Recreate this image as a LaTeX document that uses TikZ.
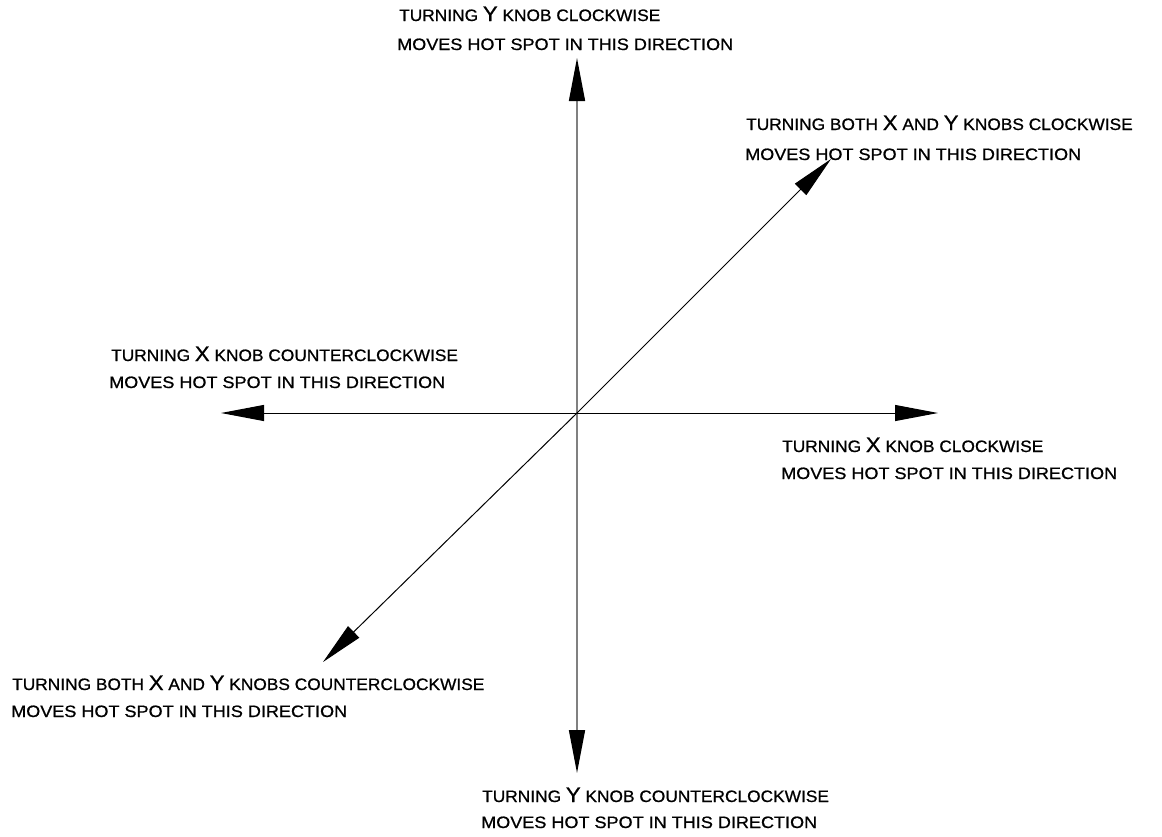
\documentclass[tikz,border=0pt]{standalone}
\usepackage{fontspec}
\setmainfont{Liberation Sans}
\newfontfamily\lineA[FakeStretch=1.05,FakeBold=0.8]{Liberation Sans}
\newfontfamily\lineB[FakeStretch=1.094,FakeBold=0.8]{Liberation Sans}
\usetikzlibrary{arrows.meta}
\newcommand\KL[1]{{\fontsize{21}{22}\selectfont #1}}
\begin{document}
\begin{tikzpicture}[x=1pt,y=-1pt,
  lbl/.style={anchor=base west,inner sep=0pt},
  lblA/.style={lbl,font=\lineA\fontsize{16.5}{17}\selectfont},
  lblB/.style={lbl,font=\lineB\fontsize{16.5}{17}\selectfont},
  axis/.style={line width=1pt,-{Triangle[length=43pt,width=16pt,color=black]}},
  greyaxis/.style={axis,line width=1.6pt,draw={rgb,255:red,128;green,128;blue,128}}]
\useasboundingbox[fill=white] (0,0) rectangle (1162,836);
\coordinate (O) at (577,413);
\coordinate (T) at (577,58);
\coordinate (B) at (577,773);
\coordinate (L) at (221,413);
\coordinate (R) at (938,413);
\coordinate (UR) at (831,159);
\coordinate (LL) at (323,662);
\draw[greyaxis] (O) -- (T);
\draw[greyaxis] (O) -- (B);
\draw[axis] (O) -- (L);
\draw[axis] (O) -- (R);
\draw[axis] (O) -- (UR);
\draw[axis] (O) -- (LL);
\node[lblA] (t1) at (399,21) {TURNING \KL{Y} KNOB CLOCKWISE};
\node[lblB] (t2) at (397,50) {MOVES HOT SPOT IN THIS DIRECTION};
\node[lblA] (ur1) at (746,130) {TURNING BOTH \KL{X} AND \KL{Y} KNOBS CLOCKWISE};
\node[lblB] (ur2) at (745,160) {MOVES HOT SPOT IN THIS DIRECTION};
\node[lblA] (l1) at (111,361) {TURNING \KL{X} KNOB COUNTERCLOCKWISE};
\node[lblB] (l2) at (109,388) {MOVES HOT SPOT IN THIS DIRECTION};
\node[lblA] (r1) at (782,452) {TURNING \KL{X} KNOB CLOCKWISE};
\node[lblB] (r2) at (781,479) {MOVES HOT SPOT IN THIS DIRECTION};
\node[lblA] (ll1) at (12,690) {TURNING BOTH \KL{X} AND \KL{Y} KNOBS COUNTERCLOCKWISE};
\node[lblB] (ll2) at (11,717) {MOVES HOT SPOT IN THIS DIRECTION};
\node[lblA] (b1) at (482,802) {TURNING \KL{Y} KNOB COUNTERCLOCKWISE};
\node[lblB] (b2) at (481,828) {MOVES HOT SPOT IN THIS DIRECTION};
\end{tikzpicture}
\end{document}
